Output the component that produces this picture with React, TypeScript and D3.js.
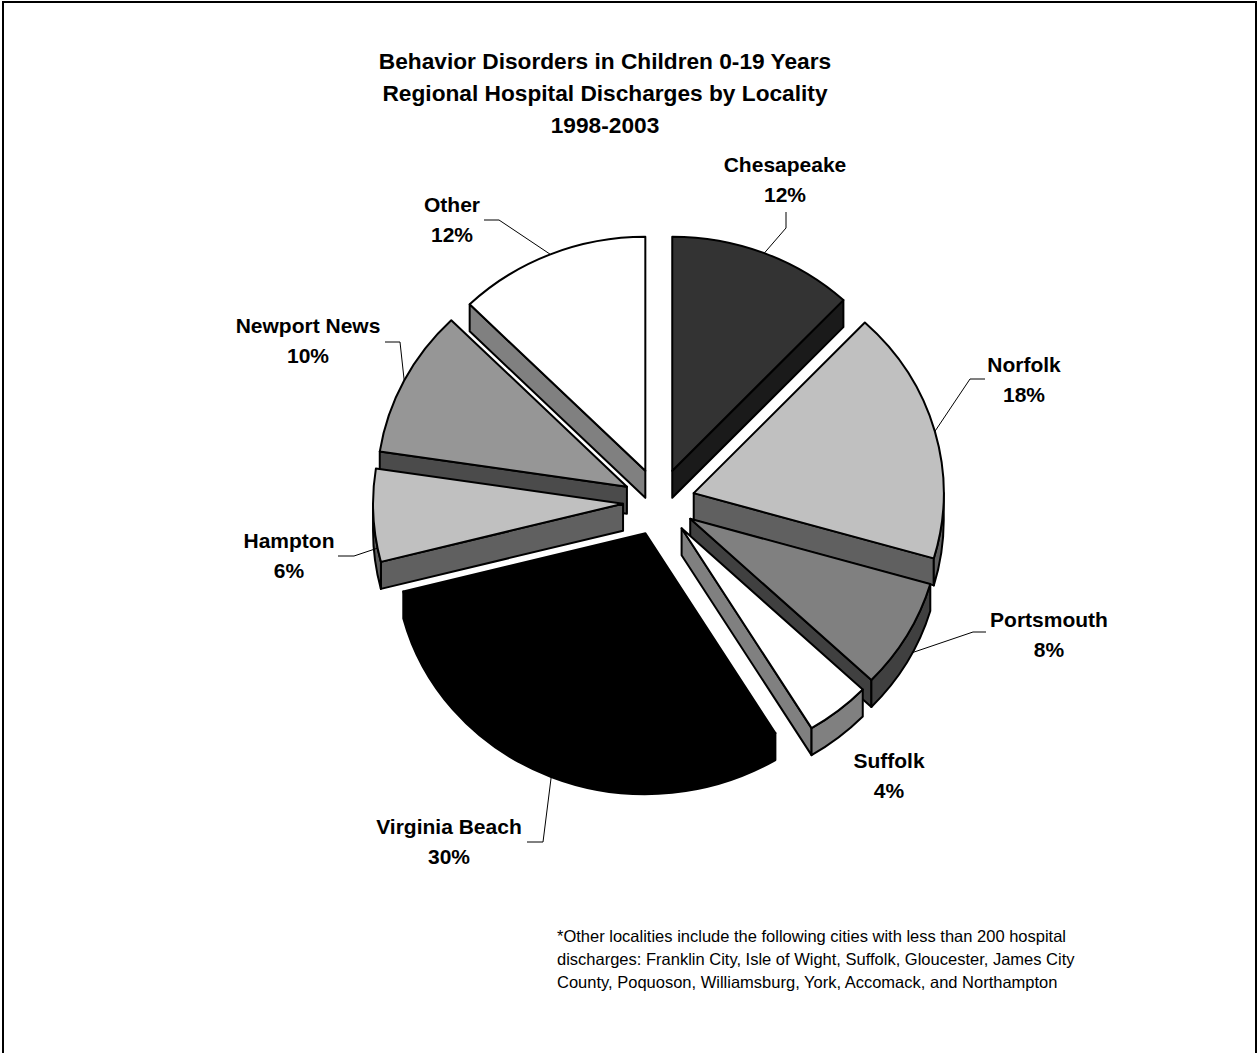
import React from 'react';
import * as d3 from 'd3';

// ---- data ----
const categories = ['Chesapeake', 'Norfolk', 'Portsmouth', 'Suffolk', 'Virginia Beach', 'Hampton', 'Newport News', 'Other'];
const shares = [12.0, 17.5, 7.6, 4.2, 29.7, 6.4, 10.2, 12.4];
const titleLines = ['Behavior Disorders in Children 0-19 Years', 'Regional Hospital Discharges by Locality', '1998-2003'];
const footnoteLines = [
  '*Other localities include the following cities with less than 200 hospital',
  'discharges: Franklin City, Isle of Wight, Suffolk, Gloucester, James City',
  'County, Poquoson, Williamsburg, York, Accomack, and Northampton',
];

// ---- styles ----
const topColors = ['#333333', '#c0c0c0', '#808080', '#ffffff', '#000000', '#c0c0c0', '#969696', '#ffffff'];
const sideColors = ['#1a1a1a', '#606060', '#404040', '#808080', '#000000', '#606060', '#4b4b4b', '#808080'];

// ---- label layout (text centre x, first baseline y) ----
const labelPos: [number, number][] = [
  [785, 172], [1024, 372], [1049, 627], [889, 768], [449, 834], [289, 548], [308, 333], [452, 212],
];
// leader: start point, elbow point, position of target within slice (0..1), drop to wall bottom
const leaderStart: ([number, number] | null)[] = [
  [786, 212], [985, 379], [986, 632], null, [527, 842], [338, 556], [385, 342], [484, 220],
];
const leaderElbow: ([number, number] | null)[] = [
  [786, 228], [970, 379], [973, 632], null, [543, 842], [354, 556], [400, 342], [499, 220],
];
const leaderT = [0.5, 0.5, 0.4, 0.5, 0.5, 0.15, 0.5, 0.5];
const leaderDrop = [0, 0, 1, 0, 1, 0, 0, 0];

const FONT = 'Liberation Sans, Arial, Helvetica, sans-serif';

export default function App() {
  const W = 1259;
  const H = 1053;
  const cx = 659;
  const cy = 502;
  const rx = 250;
  const ry = 234;
  const depth = 27;
  const explode = 36;

  const arcs = d3.pie<number>().sort(null).value((d) => d)(shares);

  const slices = arcs.map((a, i) => {
    const a0 = a.startAngle;
    const a1 = a.endAngle;
    const mid = (a0 + a1) / 2;
    const ox = cx + explode * Math.sin(mid);
    const oy = cy - explode * Math.cos(mid) * (ry / rx);
    const P = (t: number, dz = 0): [number, number] => [ox + rx * Math.sin(t), oy - ry * Math.cos(t) + dz];
    const pt = (p: [number, number]) => `${p[0].toFixed(2)},${p[1].toFixed(2)}`;
    const large = (s: number, e: number) => (e - s > Math.PI ? 1 : 0);

    const top = `M${pt([ox, oy])}L${pt(P(a0))}A${rx},${ry} 0 ${large(a0, a1)} 1 ${pt(P(a1))}Z`;
    const walls: { d: string; key: string }[] = [];
    if (Math.sin(a0) < -1e-6) {
      walls.push({ key: 's', d: `M${pt([ox, oy])}L${pt(P(a0))}L${pt(P(a0, depth))}L${pt([ox, oy + depth])}Z` });
    }
    if (Math.sin(a1) > 1e-6) {
      walls.push({ key: 'e', d: `M${pt([ox, oy])}L${pt(P(a1))}L${pt(P(a1, depth))}L${pt([ox, oy + depth])}Z` });
    }
    const s = Math.max(a0, Math.PI / 2);
    const e = Math.min(a1, (3 * Math.PI) / 2);
    if (e > s) {
      walls.push({
        key: 'o',
        d: `M${pt(P(s))}A${rx},${ry} 0 ${large(s, e)} 1 ${pt(P(e))}L${pt(P(e, depth))}A${rx},${ry} 0 ${large(s, e)} 0 ${pt(P(s, depth))}Z`,
      });
    }
    const tt = a0 + (a1 - a0) * leaderT[i];
    const target = P(tt, leaderDrop[i] ? depth : 0);
    return { i, mid, top, walls, target };
  });

  const order = [...slices].sort((p, q) => Math.cos(q.mid) - Math.cos(p.mid));

  return (
    <svg
      width={W}
      height={H}
      viewBox={`0 0 ${W} ${H}`}
      style={{ position: 'absolute', left: 0, top: 0, background: '#fff' }}
    >
      <rect x={0} y={0} width={W} height={H} fill="#fff" />
      <rect x={3} y={2} width={W - 6} height={H + 20} fill="none" stroke="#000" strokeWidth={2} />

      {titleLines.map((t, k) => (
        <text key={k} x={605} y={69 + k * 32} textAnchor="middle" fontFamily={FONT} fontWeight="bold" fontSize={22.7} fill="#000">
          {t}
        </text>
      ))}

      {order.map((s) => (
        <g key={s.i}>
          {s.walls.map((w) => (
            <path key={w.key} d={w.d} fill={sideColors[s.i]} stroke="#000" strokeWidth={2} strokeLinejoin="round" />
          ))}
          <path d={s.top} fill={topColors[s.i]} stroke="#000" strokeWidth={2} strokeLinejoin="round" />
        </g>
      ))}

      {slices.map((s) => {
        const st = leaderStart[s.i];
        const el = leaderElbow[s.i];
        if (!st || !el) return null;
        return (
          <polyline
            key={'l' + s.i}
            points={`${st[0]},${st[1]} ${el[0]},${el[1]} ${s.target[0].toFixed(1)},${s.target[1].toFixed(1)}`}
            fill="none"
            stroke="#000"
            strokeWidth={1}
          />
        );
      })}

      {slices.map((s) => (
        <text key={'t' + s.i} textAnchor="middle" fontFamily={FONT} fontWeight="bold" fontSize={21} fill="#000">
          <tspan x={labelPos[s.i][0]} y={labelPos[s.i][1]}>{categories[s.i]}</tspan>
          <tspan x={labelPos[s.i][0]} y={labelPos[s.i][1] + 29.5}>{`${Math.round(shares[s.i])}%`}</tspan>
        </text>
      ))}

      {footnoteLines.map((t, k) => (
        <text key={'f' + k} x={557} y={942 + k * 23} fontFamily={FONT} fontSize={16.5} fill="#000">
          {t}
        </text>
      ))}
    </svg>
  );
}
